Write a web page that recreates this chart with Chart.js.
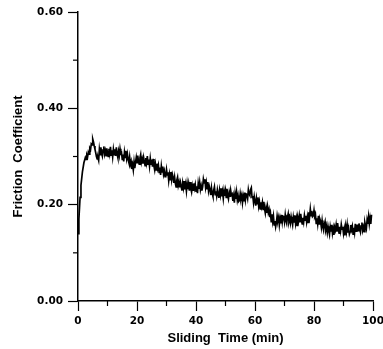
<!DOCTYPE html>
<html>
<head>
<meta charset="utf-8">
<script src="https://cdn.jsdelivr.net/npm/chart.js@4/dist/chart.umd.min.js"></script>
<style>
html,body{margin:0;padding:0;background:#fff;}
#wrap{width:383px;height:349px;position:relative;}
</style>
</head>
<body>
<div id="wrap"><canvas id="c" width="383" height="349"></canvas></div>
<script>
// Sliding time (min)
const times = [
 0, 0.3, 0.7, 1.0, 1.5, 2.0, 2.5, 2.75, 3.0, 3.25, 3.5, 3.75, 4.0, 4.25, 4.5, 4.75, 5.0,
 5.25, 5.5, 5.75, 6.0, 6.25, 6.5, 6.75, 7.0,
 7.25, 7.5, 7.75, 8.0, 8.25, 8.5, 8.75, 9.0, 9.25, 9.5, 9.75, 10.0,
 10.25, 10.5, 10.75, 11.0, 11.25, 11.5, 11.75, 12.0, 12.25, 12.5,
 12.75, 13.0, 13.25, 13.5, 13.75, 14.0, 14.25, 14.5, 14.75, 15.0,
 15.25, 15.5, 15.75, 16.0, 16.25, 16.5, 16.75, 17.0, 17.25, 17.5,
 17.75, 18.0, 18.25, 18.5, 18.75, 19.0, 19.25, 19.5, 19.75, 20.0,
 20.25, 20.5, 20.75, 21.0, 21.25, 21.5, 21.75, 22.0, 22.25, 22.5,
 22.75, 23.0, 23.25, 23.5, 23.75, 24.0, 24.25, 24.5, 24.75, 25.0,
 25.25, 25.5, 25.75, 26.0, 26.25, 26.5, 26.75, 27.0, 27.25, 27.5,
 27.75, 28.0, 28.25, 28.5, 28.75, 29.0, 29.25, 29.5, 29.75, 30.0,
 30.25, 30.5, 30.75, 31.0, 31.25, 31.5, 31.75, 32.0, 32.25, 32.5,
 32.75, 33.0, 33.25, 33.5, 33.75, 34.0, 34.25, 34.5, 34.75, 35.0,
 35.25, 35.5, 35.75, 36.0, 36.25, 36.5, 36.75, 37.0, 37.25, 37.5,
 37.75, 38.0, 38.25, 38.5, 38.75, 39.0, 39.25, 39.5, 39.75, 40.0,
 40.25, 40.5, 40.75, 41.0, 41.25, 41.5, 41.75, 42.0, 42.25, 42.5,
 42.75, 43.0, 43.25, 43.5, 43.75, 44.0, 44.25, 44.5, 44.75, 45.0,
 45.25, 45.5, 45.75, 46.0, 46.25, 46.5, 46.75, 47.0, 47.25, 47.5,
 47.75, 48.0, 48.25, 48.5, 48.75, 49.0, 49.25, 49.5, 49.75, 50.0,
 50.25, 50.5, 50.75, 51.0, 51.25, 51.5, 51.75, 52.0, 52.25, 52.5,
 52.75, 53.0, 53.25, 53.5, 53.75, 54.0, 54.25, 54.5, 54.75, 55.0,
 55.25, 55.5, 55.75, 56.0, 56.25, 56.5, 56.75, 57.0, 57.25, 57.5,
 57.75, 58.0, 58.25, 58.5, 58.75, 59.0, 59.25, 59.5, 59.75, 60.0,
 60.25, 60.5, 60.75, 61.0, 61.25, 61.5, 61.75, 62.0, 62.25, 62.5,
 62.75, 63.0, 63.25, 63.5, 63.75, 64.0, 64.25, 64.5, 64.75, 65.0,
 65.25, 65.5, 65.75, 66.0, 66.25, 66.5, 66.75, 67.0, 67.25, 67.5,
 67.75, 68.0, 68.25, 68.5, 68.75, 69.0, 69.25, 69.5, 69.75, 70.0,
 70.25, 70.5, 70.75, 71.0, 71.25, 71.5, 71.75, 72.0, 72.25, 72.5,
 72.75, 73.0, 73.25, 73.5, 73.75, 74.0, 74.25, 74.5, 74.75, 75.0,
 75.25, 75.5, 75.75, 76.0, 76.25, 76.5, 76.75, 77.0, 77.25, 77.5,
 77.75, 78.0, 78.25, 78.5, 78.75, 79.0, 79.25, 79.5, 79.75, 80.0,
 80.25, 80.5, 80.75, 81.0, 81.25, 81.5, 81.75, 82.0, 82.25, 82.5,
 82.75, 83.0, 83.25, 83.5, 83.75, 84.0, 84.25, 84.5, 84.75, 85.0,
 85.25, 85.5, 85.75, 86.0, 86.25, 86.5, 86.75, 87.0, 87.25, 87.5,
 87.75, 88.0, 88.25, 88.5, 88.75, 89.0, 89.25, 89.5, 89.75, 90.0,
 90.25, 90.5, 90.75, 91.0, 91.25, 91.5, 91.75, 92.0, 92.25, 92.5,
 92.75, 93.0, 93.25, 93.5, 93.75, 94.0, 94.25, 94.5, 94.75, 95.0,
 95.25, 95.5, 95.75, 96.0, 96.25, 96.5, 96.75, 97.0, 97.25, 97.5,
 97.75, 98.0, 98.25, 98.5, 98.75, 99.0, 99.25, 99.5, 99.75, 100.0
];
// Friction coefficient
const friction = [
 0.140, 0.170, 0.215, 0.240, 0.268, 0.287, 0.298, 0.294, 0.303, 0.299, 0.309, 0.305, 0.317, 0.314, 0.326, 0.324, 0.336,
 0.330, 0.322, 0.315, 0.308, 0.300, 0.295, 0.298, 0.292,
 0.315, 0.304, 0.319, 0.307, 0.301, 0.314, 0.321, 0.305, 0.312, 0.302,
 0.317, 0.308, 0.300, 0.316, 0.306, 0.320, 0.303, 0.313, 0.299, 0.315,
 0.304, 0.315, 0.301, 0.319, 0.305, 0.298, 0.311, 0.302, 0.316, 0.306,
 0.308, 0.294, 0.304, 0.290, 0.309, 0.298, 0.312, 0.296, 0.305, 0.293,
 0.287, 0.299, 0.284, 0.290, 0.274, 0.283, 0.272, 0.289, 0.276, 0.288,
 0.298, 0.287, 0.302, 0.290, 0.284, 0.297, 0.304, 0.288, 0.295, 0.285,
 0.298, 0.289, 0.281, 0.297, 0.287, 0.301, 0.284, 0.294, 0.280, 0.296,
 0.284, 0.294, 0.279, 0.295, 0.280, 0.272, 0.284, 0.272, 0.285, 0.275,
 0.282, 0.267, 0.277, 0.262, 0.280, 0.268, 0.279, 0.263, 0.270, 0.258,
 0.260, 0.273, 0.262, 0.267, 0.250, 0.263, 0.252, 0.268, 0.252, 0.263,
 0.257, 0.245, 0.257, 0.244, 0.237, 0.251, 0.257, 0.240, 0.247, 0.236,
 0.246, 0.237, 0.229, 0.245, 0.235, 0.249, 0.232, 0.242, 0.228, 0.244,
 0.232, 0.243, 0.229, 0.247, 0.233, 0.226, 0.239, 0.230, 0.244, 0.234,
 0.242, 0.228, 0.238, 0.224, 0.244, 0.233, 0.246, 0.231, 0.239, 0.229,
 0.237, 0.253, 0.245, 0.253, 0.236, 0.246, 0.233, 0.247, 0.229, 0.238,
 0.231, 0.220, 0.235, 0.223, 0.217, 0.230, 0.237, 0.221, 0.228, 0.218,
 0.231, 0.222, 0.214, 0.230, 0.220, 0.234, 0.217, 0.227, 0.213, 0.229,
 0.218, 0.229, 0.215, 0.233, 0.219, 0.212, 0.225, 0.216, 0.230, 0.220,
 0.222, 0.208, 0.218, 0.204, 0.223, 0.212, 0.226, 0.210, 0.219, 0.207,
 0.209, 0.223, 0.213, 0.220, 0.204, 0.217, 0.207, 0.225, 0.210, 0.222,
 0.221, 0.213, 0.231, 0.222, 0.219, 0.231, 0.235, 0.215, 0.218, 0.204,
 0.217, 0.207, 0.198, 0.213, 0.202, 0.215, 0.197, 0.206, 0.191, 0.205,
 0.196, 0.205, 0.190, 0.206, 0.191, 0.182, 0.194, 0.183, 0.196, 0.184,
 0.190, 0.174, 0.182, 0.165, 0.180, 0.165, 0.176, 0.158, 0.166, 0.154,
 0.163, 0.177, 0.167, 0.174, 0.158, 0.171, 0.161, 0.179, 0.164, 0.176,
 0.175, 0.164, 0.179, 0.167, 0.161, 0.174, 0.181, 0.165, 0.172, 0.162,
 0.175, 0.166, 0.158, 0.174, 0.164, 0.178, 0.161, 0.171, 0.157, 0.173,
 0.166, 0.177, 0.163, 0.181, 0.167, 0.160, 0.173, 0.164, 0.178, 0.168,
 0.177, 0.164, 0.175, 0.163, 0.184, 0.175, 0.191, 0.177, 0.187, 0.175,
 0.177, 0.188, 0.175, 0.179, 0.161, 0.172, 0.160, 0.177, 0.160, 0.170,
 0.165, 0.153, 0.167, 0.154, 0.147, 0.159, 0.165, 0.147, 0.153, 0.142,
 0.155, 0.146, 0.138, 0.154, 0.144, 0.158, 0.141, 0.151, 0.137, 0.153,
 0.147, 0.158, 0.144, 0.162, 0.148, 0.141, 0.154, 0.145, 0.159, 0.149,
 0.154, 0.140, 0.150, 0.136, 0.155, 0.144, 0.158, 0.142, 0.151, 0.139,
 0.144, 0.158, 0.148, 0.155, 0.139, 0.152, 0.142, 0.160, 0.145, 0.157,
 0.157, 0.146, 0.161, 0.149, 0.143, 0.156, 0.163, 0.147, 0.154, 0.144,
 0.163, 0.156, 0.150, 0.168, 0.160, 0.175, 0.160, 0.172, 0.160, 0.179
];
const xTickLabels = ['0', '20', '40', '60', '80', '100'];
const yTickLabels = ['0.00', '0.20', '0.40', '0.60'];
const xTitle = 'Sliding  Time (min)';
const yTitle = 'Friction  Coefficient';

const points = times.map((t, i) => ({x: t, y: friction[i]}));
const TICKFONT = '"DejaVu Sans", sans-serif';
const TITLEFONT = '"Liberation Sans", Arial, sans-serif';

const minorTicks = {
  id: 'minorTicks',
  afterDraw(chart) {
    const ctx = chart.ctx;
    const xs = chart.scales.x, ys = chart.scales.y;
    ctx.save();
    ctx.strokeStyle = '#000';
    ctx.lineWidth = 1.2;
    [10, 30, 50, 70, 90].forEach(v => {
      const px = xs.getPixelForValue(v);
      ctx.beginPath(); ctx.moveTo(px, ys.bottom); ctx.lineTo(px, ys.bottom + 5); ctx.stroke();
    });
    [0.1, 0.3, 0.5].forEach(v => {
      const py = ys.getPixelForValue(v);
      ctx.beginPath(); ctx.moveTo(xs.left, py); ctx.lineTo(xs.left - 5, py); ctx.stroke();
    });
    ctx.restore();
  }
};

new Chart(document.getElementById('c'), {
  type: 'line',
  data: {
    datasets: [{
      data: points,
      borderColor: '#000',
      borderWidth: 1.7,
      pointRadius: 0,
      tension: 0,
      fill: false
    }]
  },
  options: {
    responsive: false,
    animation: false,
    plugins: { legend: { display: false }, tooltip: { enabled: false } },
    layout: { padding: { left: 11, right: 10, top: 12, bottom: 3 } },
    scales: {
      x: {
        type: 'linear', min: 0, max: 100,
        afterFit(s) { s.height = 45; s.paddingRight = 0; s.paddingLeft = 0; },
        border: { display: true, color: '#000', width: 1.5 },
        grid: { drawOnChartArea: false, tickLength: 10, tickColor: '#000', tickWidth: 1.2 },
        ticks: {
          stepSize: 20, color: '#000', padding: 4, maxRotation: 0,
          font: { family: TICKFONT, size: 10.5, weight: 'bold' },
          callback: (v) => { const i = Math.round(v / 20); return xTickLabels[i]; }
        },
        title: { display: true, text: xTitle, color: '#000', padding: { top: 0, bottom: 0 },
          font: { family: TITLEFONT, size: 13, weight: 'bold' } }
      },
      y: {
        min: 0, max: 0.6,
        afterFit(s) { s.width = 67; s.paddingTop = 0; s.paddingBottom = 0; },
        border: { display: true, color: '#000', width: 1.5 },
        grid: { drawOnChartArea: false, tickLength: 10, tickColor: '#000', tickWidth: 1.2 },
        ticks: {
          stepSize: 0.2, color: '#000', padding: 5,
          font: { family: TICKFONT, size: 10.5, weight: 'bold' },
          callback: (v) => { const i = Math.round(v / 0.2); return yTickLabels[i]; }
        },
        title: { display: true, text: yTitle, color: '#000', padding: { top: 0, bottom: 0 },
          font: { family: TITLEFONT, size: 13, weight: 'bold' } }
      }
    }
  },
  plugins: [minorTicks]
});
</script>
</body>
</html>
